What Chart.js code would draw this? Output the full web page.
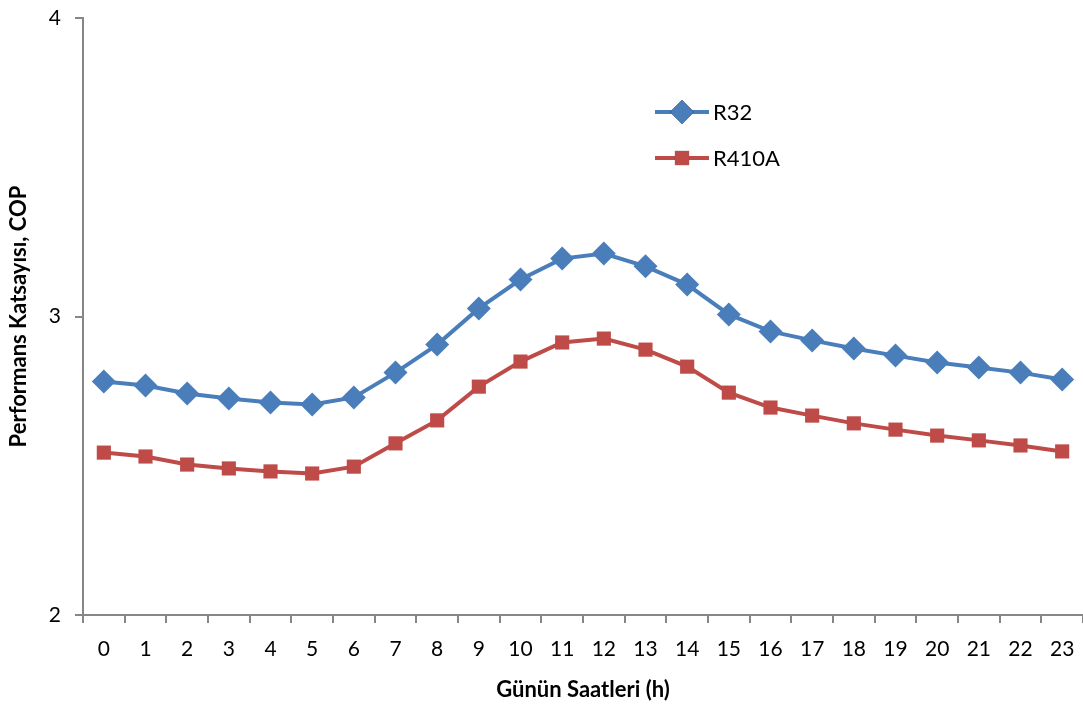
<!DOCTYPE html>
<html lang="tr">
<head>
  <meta charset="UTF-8">
  <title>Performans Katsayısı</title>
  <script src="https://cdn.jsdelivr.net/npm/chart.js"></script>
  <style>
    html, body { margin: 0; padding: 0; background: #fff; overflow: hidden; }
    #wrap { width: 1083px; height: 707px; }
  </style>
</head>
<body>
  <div id="wrap"><canvas id="copChart"></canvas></div>

  <script>
    // Saatler (0-23)
    const hours = ['0','1','2','3','4','5','6','7','8','9','10','11','12','13','14','15','16','17','18','19','20','21','22','23'];

    // COP değerleri
    const r32 = [2.782, 2.769, 2.742, 2.725, 2.712, 2.705, 2.729, 2.812, 2.906, 3.027, 3.124, 3.194,
                 3.211, 3.168, 3.107, 3.007, 2.950, 2.920, 2.893, 2.869, 2.846, 2.829, 2.812, 2.789];
    const r410a = [2.544, 2.531, 2.504, 2.491, 2.481, 2.474, 2.497, 2.575, 2.652, 2.765, 2.849, 2.913,
                   2.926, 2.889, 2.832, 2.745, 2.695, 2.668, 2.642, 2.621, 2.601, 2.585, 2.568, 2.548];

    const yTicks = [2, 3, 4];

    const FONT = 'Lato, "Open Sans", sans-serif';
    const axisGray = '#868686';

    // Excel tarzı lejant, grafik alanının içinde
    const insideLegend = {
      id: 'insideLegend',
      afterDraw(chart) {
        const c = chart.ctx;
        const pos = [{ x: 655, y: 112 }, { x: 655, y: 158 }];
        chart.data.datasets.forEach((ds, i) => {
          const p = pos[i];
          c.save();
          c.strokeStyle = ds.borderColor;
          c.lineWidth = ds.borderWidth;
          c.beginPath();
          c.moveTo(p.x, p.y);
          c.lineTo(p.x + 54, p.y);
          c.stroke();
          Chart.helpers.drawPoint(c, {
            pointStyle: ds.pointStyle,
            radius: ds.pointRadius,
            borderWidth: 0
          }, p.x + 27, p.y);
          c.fillStyle = ds.pointBackgroundColor;
          c.fill();
          c.fillStyle = '#000';
          c.font = '22px ' + FONT;
          c.textBaseline = 'middle';
          c.fillText(ds.label, p.x + 58, p.y + 1);
          c.restore();
        });
      }
    };

    new Chart(document.getElementById('copChart'), {
      type: 'line',
      data: {
        labels: hours,
        datasets: [
          {
            label: 'R32',
            data: r32,
            borderColor: '#4A7EBB',
            backgroundColor: '#4A7EBB',
            pointBackgroundColor: '#4A7EBB',
            pointBorderWidth: 0,
            borderWidth: 4,
            pointStyle: 'rectRot',
            pointRadius: 12,
            tension: 0
          },
          {
            label: 'R410A',
            data: r410a,
            borderColor: '#BE4B48',
            backgroundColor: '#BE4B48',
            pointBackgroundColor: '#BE4B48',
            pointBorderWidth: 0,
            borderWidth: 4,
            pointStyle: 'rect',
            pointRadius: 10,
            tension: 0
          }
        ]
      },
      options: {
        responsive: true,
        maintainAspectRatio: false,
        animation: false,
        layout: { autoPadding: false, padding: { top: 18, right: 0, left: 0, bottom: 0 } },
        plugins: {
          legend: { display: false },
          tooltip: { enabled: false }
        },
        scales: {
          x: {
            offset: true,
            grid: {
              offset: true,
              drawOnChartArea: false,
              drawTicks: true,
              tickLength: 8,
              color: axisGray,
              lineWidth: 2
            },
            border: { color: axisGray, width: 2 },
            ticks: { color: '#000', font: { family: FONT, size: 21 }, padding: 14, maxRotation: 0 },
            title: {
              display: true,
              text: 'Günün Saatleri (h)',
              color: '#000',
              font: { family: FONT, size: 22, weight: 'bold' },
              padding: { top: 2 }
            },
            afterFit(scale) {
              scale.height = 92;
              scale.paddingLeft = 0;
              scale.paddingRight = 0;
            }
          },
          y: {
            min: 2,
            max: 4,
            afterBuildTicks(scale) { scale.ticks = yTicks.map(v => ({ value: v })); },
            grid: {
              drawOnChartArea: false,
              drawTicks: true,
              tickLength: 8,
              color: axisGray,
              lineWidth: 2
            },
            border: { color: axisGray, width: 2 },
            ticks: { color: '#000', font: { family: FONT, size: 21 }, padding: 14 },
            title: {
              display: true,
              text: 'Performans Katsayısı, COP',
              color: '#000',
              font: { family: FONT, size: 22, weight: 'bold' },
              padding: { top: 6, bottom: 0 }
            },
            afterFit(scale) {
              scale.width = 83;
              scale.paddingTop = 0;
              scale.paddingBottom = 0;
            }
          }
        }
      },
      plugins: [insideLegend]
    });
  </script>
</body>
</html>
